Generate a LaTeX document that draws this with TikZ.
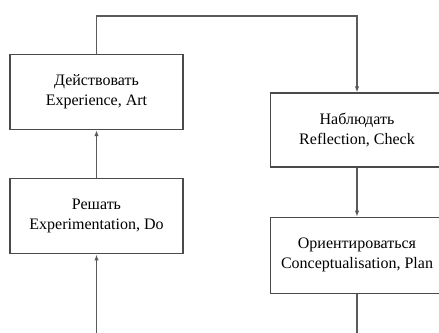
\documentclass[tikz,border=0pt]{standalone}
\usepackage{fontspec}
\setmainfont{Liberation Serif}
\usepackage{tikz}
\usetikzlibrary{arrows.meta,positioning}
\definecolor{boxline}{HTML}{4A4A4A}
\definecolor{flowline}{HTML}{5A5A5A}
\tikzset{
    loopbox/.style={draw=boxline, line width=1.3pt, fill=white, align=center, font=\fontsize{16}{20}\selectfont, minimum width=173pt, minimum height=75pt, inner sep=2pt},
    looparrow/.style={-{Latex[length=6pt,width=4.5pt]}, draw=flowline, line width=1.2pt}
}

\begin{document}
\begin{tikzpicture}[x=1pt, y=-1pt]
        \useasboundingbox (0,0) rectangle (439,332);
        \clip (0,0) rectangle (439,332);

        \node[loopbox] (act) at (96.5,92) {Действовать\\Experience, Art};
        \node[loopbox, below=48pt of act] (decide) {Решать\\Experimentation, Do};
        \node[loopbox, minimum height=74pt] (observe) at (357,130) {Наблюдать\\Reflection, Check};
        \node[loopbox, minimum height=76pt, below=49pt of observe] (orient) {Ориентироваться\\Conceptualisation, Plan};

        \coordinate (topturn) at (357,16);
        \coordinate (botturn) at (96.5,345);

        \draw[looparrow] (decide) -- (act);
        \draw[looparrow] (act.north) |- (topturn) -- (observe.north);
        \draw[looparrow] (observe) -- (orient);
        \draw[looparrow] (orient.south) |- (botturn) -- (decide.south);
    \end{tikzpicture}
\end{document}
